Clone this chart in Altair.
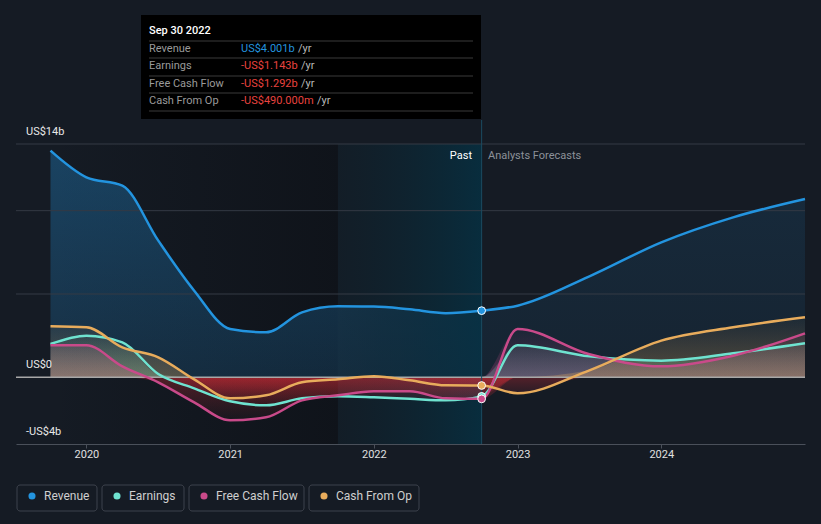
import altair as alt
import pandas as pd

FONT = "Roboto"
BG = "#151b24"

# ---------------- data (US$ billions) ----------------
years_hist = [2019.75, 2020.0, 2020.25, 2020.5, 2020.75, 2021.0, 2021.25, 2021.5,
              2021.75, 2022.0, 2022.25, 2022.5, 2022.75]
years_fc = [2023.0, 2023.5, 2024.0, 2024.5, 2025.0]

revenue_hist = [13.6, 12.0, 11.5, 8.2, 5.2, 2.9, 2.7, 3.9, 4.26, 4.25, 4.08, 3.85, 4.001]
revenue_fc = [4.3, 6.06, 8.1, 9.6, 10.7]
earnings_hist = [2.0, 2.5, 2.1, 0.2, -0.66, -1.44, -1.68, -1.26, -1.14, -1.2, -1.29, -1.38, -1.143]
earnings_fc = [1.92, 1.26, 1.0, 1.44, 2.04]
fcf_hist = [1.92, 1.92, 0.66, -0.3, -1.5, -2.58, -2.4, -1.38, -1.08, -0.84, -0.84, -1.26, -1.292]
fcf_fc = [2.9, 1.38, 0.66, 1.3, 2.64]
cfo_hist = [3.06, 3.0, 1.8, 1.2, -0.12, -1.26, -1.08, -0.3, -0.12, 0.06, -0.18, -0.48, -0.49]
cfo_fc = [-0.96, 0.42, 2.2, 3.0, 3.6]

series_names = ["Revenue", "Earnings", "Free Cash Flow", "Cash From Op"]
series_colors = ["#2394df", "#6fe3d0", "#c94a8a", "#e8ac5c"]
series_rgb = [(35, 148, 223), (111, 227, 208), (201, 74, 138), (232, 172, 92)]

tooltip_date = "Sep 30 2022"
tooltip_values = ["US$4.001b", "-US$1.143b", "-US$1.292b", "-US$490.000m"]

x_ticks = [2020, 2021, 2022, 2023, 2024]
y_labels = [(14, "US$14b"), (0, "US$0"), (-4, "-US$4b")]
grid_values = [14, 10, 5]

past_start = 2021.75
now = 2022.75

# ---------------- tables ----------------
hist_all = {"Revenue": revenue_hist, "Earnings": earnings_hist,
            "Free Cash Flow": fcf_hist, "Cash From Op": cfo_hist}
fc_all = {"Revenue": revenue_fc, "Earnings": earnings_fc,
          "Free Cash Flow": fcf_fc, "Cash From Op": cfo_fc}
rows = []
for n in series_names:
    for yv, v in zip(years_hist, hist_all[n]):
        rows.append({"year": yv, "value": v, "series": n, "part": "hist"})
    for yv, v in zip(years_fc, fc_all[n]):
        rows.append({"year": yv, "value": v, "series": n, "part": "fc"})
df = pd.DataFrame(rows)

W, H = 789, 300
OX, OY = 16, 144  # plot origin in page pixels

xscale = alt.Scale(domain=[2019.51, 2025.0], nice=False, zero=False)
yscale = alt.Scale(domain=[-4, 14], nice=False, zero=False)
xaxis = alt.Axis(values=x_ticks, format="d", title=None, grid=False,
                 domainColor="#4a505a", domainWidth=1, tickColor="#4a505a",
                 tickSize=4, labelColor="#e0e0e0", labelFont=FONT,
                 labelFontSize=11, labelPadding=0)
X = alt.X("year:Q", scale=xscale, axis=xaxis)

one = pd.DataFrame({"a": [0]})


def rgba(rgb, a):
    return f"rgba({rgb[0]},{rgb[1]},{rgb[2]},{a})"


def vgrad(c0, c1):
    return alt.Gradient(gradient="linear",
                        stops=[alt.GradientStop(color=c0, offset=0),
                               alt.GradientStop(color=c1, offset=1)],
                        x1=0, x2=0, y1=0, y2=1)


def hgrad(c0, c1):
    return alt.Gradient(gradient="linear",
                        stops=[alt.GradientStop(color=c0, offset=0),
                               alt.GradientStop(color=c1, offset=1)],
                        x1=0, x2=1, y1=0, y2=0)


def txt(s, x, y, color, size=11, align="left", weight="normal"):
    return alt.Chart(one).mark_text(
        text=s, align=align, baseline="middle", color=color, fontSize=size,
        font=FONT, fontWeight=weight
    ).encode(x=alt.value(x - OX), y=alt.value(y - OY))


layers = []

# historic darkening
regions = pd.DataFrame({"start": [years_hist[0]], "end": [past_start]})
layers.append(alt.Chart(regions).mark_rect(
    color=hgrad("rgba(8,10,14,0.0)", "rgba(8,10,14,0.45)")
).encode(x=alt.X("start:Q", scale=xscale, axis=xaxis), x2="end:Q",
         y=alt.value(0), y2=alt.value(H)))

# revenue areas
rev_rgb = series_rgb[0]
layers.append(alt.Chart(df).transform_filter(
    (alt.datum.series == "Revenue") & (alt.datum.year <= now)
).transform_calculate(zero="0").mark_area(
    interpolate="monotone", color=vgrad(rgba(rev_rgb, 0.33), rgba(rev_rgb, 0.17))
).encode(x=X, y=alt.Y("value:Q", scale=yscale, axis=None), y2="zero:Q"))
layers.append(alt.Chart(df).transform_filter(
    (alt.datum.series == "Revenue") & (alt.datum.year >= now)
).transform_calculate(zero="0").mark_area(
    interpolate="monotone", color=vgrad(rgba(rev_rgb, 0.12), rgba(rev_rgb, 0.07))
).encode(x=X, y=alt.Y("value:Q", scale=yscale, axis=None), y2="zero:Q"))

# past region
past = pd.DataFrame({"start": [past_start], "end": [now]})
layers.append(alt.Chart(past).mark_rect(
    color=hgrad("rgba(12,36,48,0.25)", "rgba(6,48,66,0.85)")
).encode(x=alt.X("start:Q", scale=xscale, axis=xaxis), x2="end:Q",
         y=alt.value(0), y2=alt.value(H)))

# gridlines
layers.append(alt.Chart(pd.DataFrame({"g": grid_values})).mark_rule(
    color="#343a44", strokeWidth=1
).encode(y=alt.Y("g:Q", scale=yscale, axis=None), x=alt.value(0), x2=alt.value(W)))

# series areas (positive part in series colour, negative part red)
for n, rgb in zip(series_names[1:], series_rgb[1:]):
    base = alt.Chart(df).transform_filter(alt.datum.series == n)
    layers.append(base.transform_calculate(
        pos="max(datum.value, 0)", zero="0"
    ).mark_area(interpolate="monotone",
                color=vgrad(rgba(rgb, 0.03), rgba(rgb, 0.3))
    ).encode(x=X, y=alt.Y("pos:Q", scale=yscale, axis=None), y2="zero:Q"))
    layers.append(base.transform_calculate(
        neg="min(datum.value, 0)", zero="0"
    ).mark_area(interpolate="monotone",
                color=vgrad("rgba(225,45,55,0.3)", "rgba(225,45,55,0.03)")
    ).encode(x=X, y=alt.Y("neg:Q", scale=yscale, axis=None), y2="zero:Q"))

# zero line
layers.append(alt.Chart(pd.DataFrame({"g": [0]})).mark_rule(
    color="#a8a8a8", strokeWidth=1.5
).encode(y=alt.Y("g:Q", scale=yscale, axis=None), x=alt.value(0), x2=alt.value(W)))

# lines
layers.append(alt.Chart(df).mark_line(
    interpolate="monotone", strokeWidth=2.5
).encode(x=X, y=alt.Y("value:Q", scale=yscale, axis=None),
         color=alt.Color("series:N", scale=alt.Scale(domain=series_names, range=series_colors),
                         legend=None),
         detail="series:N"))

# "now" vertical line
layers.append(alt.Chart(pd.DataFrame({"year": [now]})).mark_rule(
    color="#1b4b60", strokeWidth=1
).encode(x=X, y=alt.value(120 - OY), y2=alt.value(H)))

# points at the current date
layers.append(alt.Chart(df).transform_filter(alt.datum.year == now).mark_point(
    filled=True, size=60, stroke="#ffffff", strokeWidth=1, opacity=1
).encode(x=X, y=alt.Y("value:Q", scale=yscale, axis=None),
         fill=alt.Color("series:N", scale=alt.Scale(domain=series_names, range=series_colors),
                        legend=None)))

# y labels
for v, lab in y_labels:
    layers.append(alt.Chart(pd.DataFrame({"v": [v]})).mark_text(
        text=lab, align="left", baseline="middle", color="#e8e8e8", fontSize=11,
        font=FONT, dy=-12
    ).encode(x=alt.value(26 - OX), y=alt.Y("v:Q", scale=yscale, axis=None)))

# Past / Forecast labels
layers.append(txt("Past", 472, 156, "#ffffff", 11, align="right"))
layers.append(txt("Analysts Forecasts", 488, 156, "#8c9199", 11))

# tooltip box
layers.append(alt.Chart(one).mark_rect(color="#000000").encode(
    x=alt.value(141 - OX), x2=alt.value(481 - OX), y=alt.value(15 - OY), y2=alt.value(119 - OY)))
for sy in [41, 58, 76, 93, 111]:
    layers.append(alt.Chart(one).mark_rule(color="#3a3a3a", strokeWidth=1).encode(
        x=alt.value(149 - OX), x2=alt.value(473 - OX), y=alt.value(sy - OY)))
layers.append(txt(tooltip_date, 149, 31, "#ffffff", 11, weight=500))
row_y = [49, 66, 84, 101]
val_colors = ["#2394df", "#e8433f", "#e8433f", "#e8433f"]
yr_x = [298, 301, 301, 317]
for n, vy, val, vc, yx in zip(series_names, row_y, tooltip_values, val_colors, yr_x):
    layers.append(txt(n, 149, vy, "#9a9a9a", 11))
    layers.append(txt(val, 241, vy, vc, 11))
    layers.append(txt("/yr", yx, vy, "#b8b8b8", 11))

# legend
box_x = [(17, 97), (102, 184), (189, 304), (309, 419)]
for (bx0, bx1), n, c in zip(box_x, series_names, series_colors):
    layers.append(alt.Chart(one).mark_rect(
        filled=False, stroke="#3d424c", strokeWidth=1, cornerRadius=3
    ).encode(x=alt.value(bx0 - OX), x2=alt.value(bx1 - OX),
             y=alt.value(485 - OY), y2=alt.value(511 - OY)))
    layers.append(alt.Chart(one).mark_point(
        filled=True, size=50, color=c, opacity=1
    ).encode(x=alt.value(bx0 + 15 - OX), y=alt.value(496 - OY)))
    layers.append(txt(n, bx0 + 27, 496, "#cfcfcf", 12))

chart = alt.layer(*layers).properties(
    width=W, height=H, background=BG,
    padding={"left": OX, "top": OY, "right": 821 - OX - W, "bottom": 524 - OY - H},
    autosize=alt.AutoSizeParams(type="none")
).configure_view(stroke=None)

chart.save("out.html", embed_options={"renderer": "svg", "actions": False})
